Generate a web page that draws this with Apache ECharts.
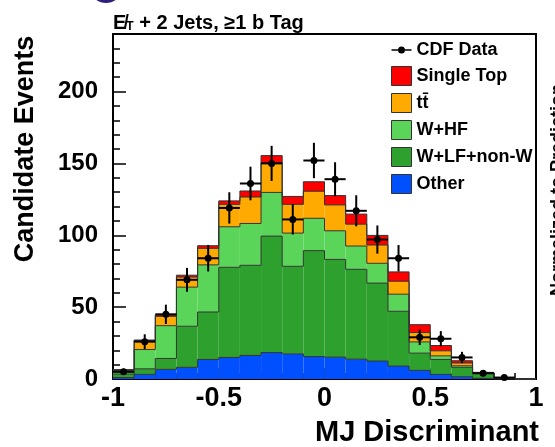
<!DOCTYPE html>
<html>
<head>
<meta charset="utf-8">
<script src="https://cdn.jsdelivr.net/npm/echarts@6/dist/echarts.min.js"></script>
<style>
  html, body { margin: 0; padding: 0; background: #fff; }
  #chart { width: 555px; height: 447px; }
</style>
</head>
<body>
<div id="chart"></div>
<script>
// bin lower edges, width 0.1
const binLow = [-1, -0.9, -0.8, -0.7, -0.6, -0.5, -0.4, -0.3, -0.2, -0.1,
  0, 0.1, 0.2, 0.3, 0.4, 0.5, 0.6, 0.7, 0.8, 0.9];
const binWidth = 0.1;

// stacked backgrounds, bottom to top
const other = [1.0, 3.2, 6.7, 8.1, 13.6, 15.0, 16.4, 18.4, 17.5, 15.6, 15.2, 13.8, 12.5, 9.0, 6.0, 3.2, 1.6, 0.5, 0.1, 0];
const wlf = [2.5, 3.9, 7.6, 28.6, 33.0, 62.7, 62.7, 81.0, 60.9, 73.7, 68.0, 62.5, 54.2, 38.1, 12.0, 10.4, 6.5, 3.5, 0.5, 0];
const whf = [2.5, 13.4, 22.8, 27.2, 32.8, 28.2, 29.1, 30.4, 23.1, 22.5, 19.9, 16.2, 13.8, 11.9, 7.8, 2.5, 1.1, 0.3, 0.1, 0];
const ttbar = [0.3, 6.3, 6.5, 7.0, 11.5, 15.6, 18.4, 20.6, 20.0, 18.8, 18.0, 15.2, 12.7, 9.0, 6.5, 3.5, 1.9, 0.2, 0.1, 0];
const singleTop = [0.2, 0.3, 1.0, 1.3, 1.8, 2.4, 4.2, 5.0, 5.5, 6.6, 6.5, 7.0, 6.7, 6.5, 5.5, 3.7, 1.6, 0.1, 0, 0];

// CDF data and errors
const dataCounts = [5, 26, 45, 69, 84, 119, 136, 150, 111, 152, 139, 117, 97, 84, 29, 28, 15, 4, 1, null];
const dataErr = [2.2, 5.1, 6.7, 8.3, 9.2, 10.9, 11.7, 12.2, 10.5, 12.3, 11.8, 10.8, 9.8, 9.2, 5.4, 5.3, 3.9, 2.0, 1.0, null];

const FONT = '"Liberation Sans", Arial, Helvetica, sans-serif';
const TTBAR = 't\u0074\u0304';

const components = [
  { name: 'Other', vals: other, color: '#0050ff' },
  { name: 'W+LF+non-W', vals: wlf, color: '#2ea02e' },
  { name: 'W+HF', vals: whf, color: '#5ad55a' },
  { name: TTBAR, vals: ttbar, color: '#ffaa00' },
  { name: 'Single Top', vals: singleTop, color: '#ff0000' }
];

// cumulative stack: base/top per component per bin
const stackBase = binLow.map(() => 0);
components.forEach(c => {
  c.items = binLow.map((x, i) => {
    const base = stackBase[i];
    const top = base + c.vals[i];
    stackBase[i] = top;
    return [x, base, top];
  });
});

const chart = echarts.init(document.getElementById('chart'));

function fillSeries(c) {
  return {
    name: c.name,
    type: 'custom',
    data: c.items,
    encode: { x: 0, y: [1, 2] },
    itemStyle: { color: c.color },
    silent: true,
    z: 2,
    renderItem: function (params, api) {
      const x = api.value(0);
      const p0 = api.coord([x, api.value(1)]);
      const p1 = api.coord([x + binWidth, api.value(2)]);
      return {
        type: 'rect',
        shape: { x: p0[0], y: p1[1], width: p1[0] - p0[0], height: p0[1] - p1[1] },
        style: { fill: c.color }
      };
    }
  };
}

// step outlines of every cumulative top
const outlineItems = [];
components.forEach(c => {
  c.items.forEach((it, i) => {
    const prevTop = i > 0 ? c.items[i - 1][2] : it[2];
    outlineItems.push([it[0], it[2], prevTop]);
  });
});

const outlineSeries = {
  type: 'custom',
  data: outlineItems,
  encode: { x: 0, y: 1 },
  silent: true,
  z: 3,
  renderItem: function (params, api) {
    const x = api.value(0);
    const a = api.coord([x, api.value(2)]);
    const b = api.coord([x, api.value(1)]);
    const e = api.coord([x + binWidth, api.value(1)]);
    return {
      type: 'polyline',
      shape: { points: [a, b, e] },
      style: { stroke: '#333', lineWidth: 1, fill: null }
    };
  }
};

const points = binLow
  .map((x, i) => [x + binWidth / 2, dataCounts[i], dataErr[i]])
  .filter(d => d[1] != null);

const legendBox = { borderColor: '#333', borderWidth: 1 };

chart.setOption({
  animation: false,
  grid: {
    left: 113, right: 19, top: 34, bottom: 68,
    show: true, borderColor: '#000', borderWidth: 2,
    containLabel: false
  },
  xAxis: {
    type: 'value', min: -1, max: 1, interval: 0.5,
    axisLine: { onZero: false, lineStyle: { color: '#000', width: 2 } },
    axisTick: { inside: true, length: 11, lineStyle: { color: '#000', width: 1.5 } },
    minorTick: { show: true, splitNumber: 5, length: 6, lineStyle: { color: '#000', width: 1.5 } },
    splitLine: { show: false },
    axisLabel: { color: '#000', fontFamily: FONT, fontWeight: 'bold', fontSize: 27, margin: 6 }
  },
  yAxis: [
    {
      type: 'value', min: 0, max: 240, interval: 50,
      axisLine: { onZero: false, lineStyle: { color: '#000', width: 2 } },
      axisTick: { inside: true, length: 13, lineStyle: { color: '#000', width: 1.5 } },
      splitLine: { show: false },
      axisLabel: { color: '#000', fontFamily: FONT, fontWeight: 'bold', fontSize: 24, margin: 15, showMaxLabel: false }
    },
    {
      type: 'value', min: 0, max: 240, interval: 10, position: 'left',
      axisLine: { show: false, onZero: false },
      axisTick: { inside: true, length: 7, lineStyle: { color: '#000', width: 1.5 } },
      splitLine: { show: false },
      axisLabel: { show: false }
    }
  ],
  legend: {
    orient: 'vertical',
    left: 386, top: 36,
    itemWidth: 20, itemHeight: 19, itemGap: 7,
    selectedMode: false,
    textStyle: { color: '#000', fontFamily: FONT, fontWeight: 'bold', fontSize: 18 },
    data: [
      { name: 'CDF Data', icon: 'path://M0,5.2 H6.6 V6.8 H0 Z M13.4,5.2 H20 V6.8 H13.4 Z M6.5,6 A3.5,3.5 0 1 0 13.5,6 A3.5,3.5 0 1 0 6.5,6 Z', itemStyle: { color: '#000', borderWidth: 0 } },
      { name: 'Single Top', icon: 'rect', itemStyle: Object.assign({ color: '#ff0000' }, legendBox) },
      { name: TTBAR, icon: 'rect', itemStyle: Object.assign({ color: '#ffaa00' }, legendBox) },
      { name: 'W+HF', icon: 'rect', itemStyle: Object.assign({ color: '#5ad55a' }, legendBox) },
      { name: 'W+LF+non-W', icon: 'rect', itemStyle: Object.assign({ color: '#2ea02e' }, legendBox) },
      { name: 'Other', icon: 'rect', itemStyle: Object.assign({ color: '#0050ff' }, legendBox) }
    ]
  },
  series: components.map(fillSeries).concat([
    outlineSeries,
    {
      name: 'CDF Data',
      type: 'custom',
      data: points,
      encode: { x: 0, y: 1 },
      itemStyle: { color: '#000' },
      silent: true,
      z: 5,
      renderItem: function (params, api) {
        const x = api.value(0), y = api.value(1), e = api.value(2);
        const c = api.coord([x, y]);
        const l = api.coord([x - binWidth / 2, y]);
        const r = api.coord([x + binWidth / 2, y]);
        const t = api.coord([x, y + e]);
        const b = api.coord([x, Math.max(0, y - e)]);
        const st = { stroke: '#000', lineWidth: 2 };
        return {
          type: 'group',
          children: [
            { type: 'line', shape: { x1: l[0], y1: l[1], x2: r[0], y2: r[1] }, style: st },
            { type: 'line', shape: { x1: t[0], y1: t[1], x2: b[0], y2: b[1] }, style: st },
            { type: 'circle', shape: { cx: c[0], cy: c[1], r: 3.5 }, style: { fill: '#000' } }
          ]
        };
      }
    }
  ]),
  graphic: [
    {
      type: 'ellipse', shape: { cx: 106, cy: -12, rx: 16, ry: 15 },
      style: { fill: '#2d1e7a' }, silent: true
    },
    {
      type: 'text', x: 113, y: 23,
      style: {
        text: '{a|E\u0338}{s|T}{a| + 2 Jets, \u22651 b Tag}',
        verticalAlign: 'middle',
        rich: {
          a: { fontFamily: FONT, fontWeight: 'bold', fontSize: 20, fill: '#000' },
          s: { fontFamily: FONT, fontWeight: 'bold', fontSize: 12, fill: '#000', verticalAlign: 'bottom', padding: [8, 0, 0, 0] }
        }
      }
    },
    {
      type: 'text', x: 26, y: 149, rotation: Math.PI / 2,
      style: {
        text: 'Candidate Events', align: 'center', verticalAlign: 'middle',
        font: 'bold 27px ' + FONT, fill: '#000'
      }
    },
    {
      type: 'text', x: 539, y: 433,
      style: {
        text: 'MJ Discriminant', align: 'right', verticalAlign: 'middle',
        font: 'bold 29px ' + FONT, fill: '#000'
      }
    },
    {
      type: 'text', x: 549, y: 190, rotation: Math.PI / 2,
      style: {
        text: 'Normalized to Prediction', align: 'center', verticalAlign: 'top',
        font: 'bold 18px ' + FONT, fill: '#000'
      }
    }
  ]
});
</script>
</body>
</html>
